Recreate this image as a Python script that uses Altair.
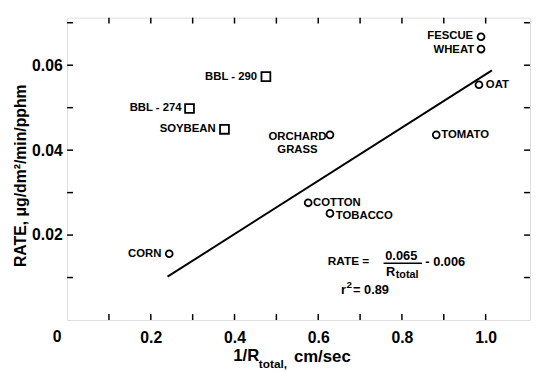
import altair as alt
import pandas as pd

# ---- data ----
circle_names = ["FESCUE", "WHEAT", "OAT", "TOMATO", "ORCHARD\nGRASS", "COTTON", "TOBACCO", "CORN"]
circle_x = [0.989, 0.989, 0.984, 0.882, 0.628, 0.576, 0.628, 0.244]
circle_y = [0.0667, 0.0638, 0.0554, 0.0436, 0.0436, 0.0276, 0.0251, 0.0156]

square_names = ["BBL - 290", "BBL - 274", "SOYBEAN"]
square_x = [0.475, 0.2925, 0.376]
square_y = [0.0573, 0.0498, 0.0449]

fit_x = [0.24, 1.015]
fit_y = [0.0102, 0.0588]

x_tick_labels = [0.2, 0.4, 0.6, 0.8, 1.0]
y_tick_labels = [0.02, 0.04, 0.06]
x_minor = [0.1, 0.2, 0.3, 0.4, 0.5, 0.6, 0.7, 0.8, 0.9, 1.0]
y_minor = [0.01, 0.02, 0.03, 0.04, 0.05, 0.06, 0.07]

# ---- layout ----
W, H = 470, 307
XDOM = [0, 1.106]
YDOM = [0, 0.0712]
FONT = "Liberation Sans, Arial, sans-serif"

# per-label placement (align, dx, dy)
label_layout = {
    "FESCUE": ("right", -8, -1),
    "WHEAT": ("right", -7, 1),
    "OAT": ("left", 7, 0),
    "TOMATO": ("left", 5, 0),
    "ORCHARD\nGRASS": ("center", -33, 2),
    "COTTON": ("left", 5, 0),
    "TOBACCO": ("left", 6, 3),
    "CORN": ("right", -8, 0),
    "BBL - 290": ("right", -9, 0),
    "BBL - 274": ("right", -8, 0),
    "SOYBEAN": ("right", -9, 0),
}

circles = pd.DataFrame({"name": circle_names, "x": circle_x, "y": circle_y})
squares = pd.DataFrame({"name": square_names, "x": square_x, "y": square_y})
fit = pd.DataFrame({"x": fit_x, "y": fit_y})
xt = pd.DataFrame({"x": x_minor})
yt = pd.DataFrame({"y": y_minor})

xs = alt.Scale(domain=XDOM, nice=False, zero=False)
ys = alt.Scale(domain=YDOM, nice=False, zero=False)

X = alt.X("x:Q", scale=xs,
          axis=alt.Axis(values=x_tick_labels, format=".1f", ticks=False, tickSize=0,
                        domain=False, grid=False, title=None, labelFont=FONT,
                        labelFontWeight="bold", labelFontSize=16, labelColor="black",
                        labelPadding=10))
Y = alt.Y("y:Q", scale=ys,
          axis=alt.Axis(values=y_tick_labels, format=".2f", ticks=False, tickSize=0,
                        domain=False, grid=False, title="RATE, μg/dm²/min/pphm",
                        titleFont=FONT, titleFontWeight="bold", titleFontSize=16,
                        titleColor="black", titleAngle=270, titleX=-47, titleY=160,
                        titleAlign="center", titleBaseline="middle",
                        labelFont=FONT, labelFontWeight="bold", labelFontSize=16,
                        labelColor="black", labelPadding=5))

pts_c = alt.Chart(circles).mark_point(shape="circle", size=49, filled=False,
                                      color="black", strokeWidth=1.8, opacity=1).encode(x=X, y=Y)
pts_s = alt.Chart(squares).mark_point(shape="square", size=81, filled=False,
                                      color="black", strokeWidth=1.8, opacity=1).encode(
    x=alt.X("x:Q", scale=xs), y=alt.Y("y:Q", scale=ys))
line = alt.Chart(fit).mark_line(color="black", strokeWidth=2).encode(
    x=alt.X("x:Q", scale=xs), y=alt.Y("y:Q", scale=ys))

layers = [line, pts_c, pts_s]

allpts = pd.concat([circles, squares], ignore_index=True)
for name, (al, dx, dy) in label_layout.items():
    d = allpts[allpts["name"] == name].copy()
    d["lab"] = d["name"].apply(lambda s: s.split("\n"))
    layers.append(
        alt.Chart(d).mark_text(align=al, baseline="middle", dx=dx, dy=dy, font=FONT,
                               fontWeight="bold", fontSize=11.5, color="black",
                               lineHeight=13).encode(
            x=alt.X("x:Q", scale=xs), y=alt.Y("y:Q", scale=ys), text="lab"))

# inward ticks
layers += [
    alt.Chart(xt).mark_rule(color="black", strokeWidth=1.5).encode(
        x=alt.X("x:Q", scale=xs), y=alt.value(H), y2=alt.value(H - 6)),
    alt.Chart(xt).mark_rule(color="black", strokeWidth=1.5).encode(
        x=alt.X("x:Q", scale=xs), y=alt.value(0), y2=alt.value(6)),
    alt.Chart(yt).mark_rule(color="black", strokeWidth=1.5).encode(
        y=alt.Y("y:Q", scale=ys), x=alt.value(0), x2=alt.value(6)),
    alt.Chart(yt).mark_rule(color="black", strokeWidth=1.5).encode(
        y=alt.Y("y:Q", scale=ys), x=alt.value(W), x2=alt.value(W - 6)),
]

# annotations (text placed in plot pixels)
def txt(s, x, y, size=13, align="left"):
    return alt.Chart(pd.DataFrame({"t": [s]})).mark_text(
        align=align, baseline="middle", font=FONT, fontWeight="bold",
        fontSize=size, color="black").encode(x=alt.value(x), y=alt.value(y), text="t:N")

layers += [
    txt("0", -10, H + 17, size=16, align="center"),
    txt("1/R", 168.7, 344, size=17),
    txt("total,", 194.7, 351.5, size=12),
    txt("cm/sec", 230.3, 345, size=17),
    txt("RATE =", 264.7, 246.7, size=12),
    txt("0.065", 323, 241.7, size=13),
    txt("R", 323.7, 258, size=13),
    txt("total", 333.7, 261.5, size=11),
    txt("- 0.006", 363.7, 247.7, size=13),
    txt("r", 278, 276.7, size=13),
    txt("2", 283.7, 271.7, size=10),
    txt("= 0.89", 290.3, 276.7, size=13),
    alt.Chart(pd.DataFrame({"a": [0]})).mark_rule(color="black", strokeWidth=1.5).encode(
        x=alt.value(321.3), x2=alt.value(360.3), y=alt.value(249.3)),
]

chart = alt.layer(*layers).properties(
    width=W, height=H,
    autosize=alt.AutoSizeParams(type="none"),
    padding={"left": 60, "top": 7, "right": 1, "bottom": 50},
).configure_view(stroke="black", strokeWidth=2).configure(background="white")

chart.save("out.html", embed_options={"renderer": "svg", "actions": False})
